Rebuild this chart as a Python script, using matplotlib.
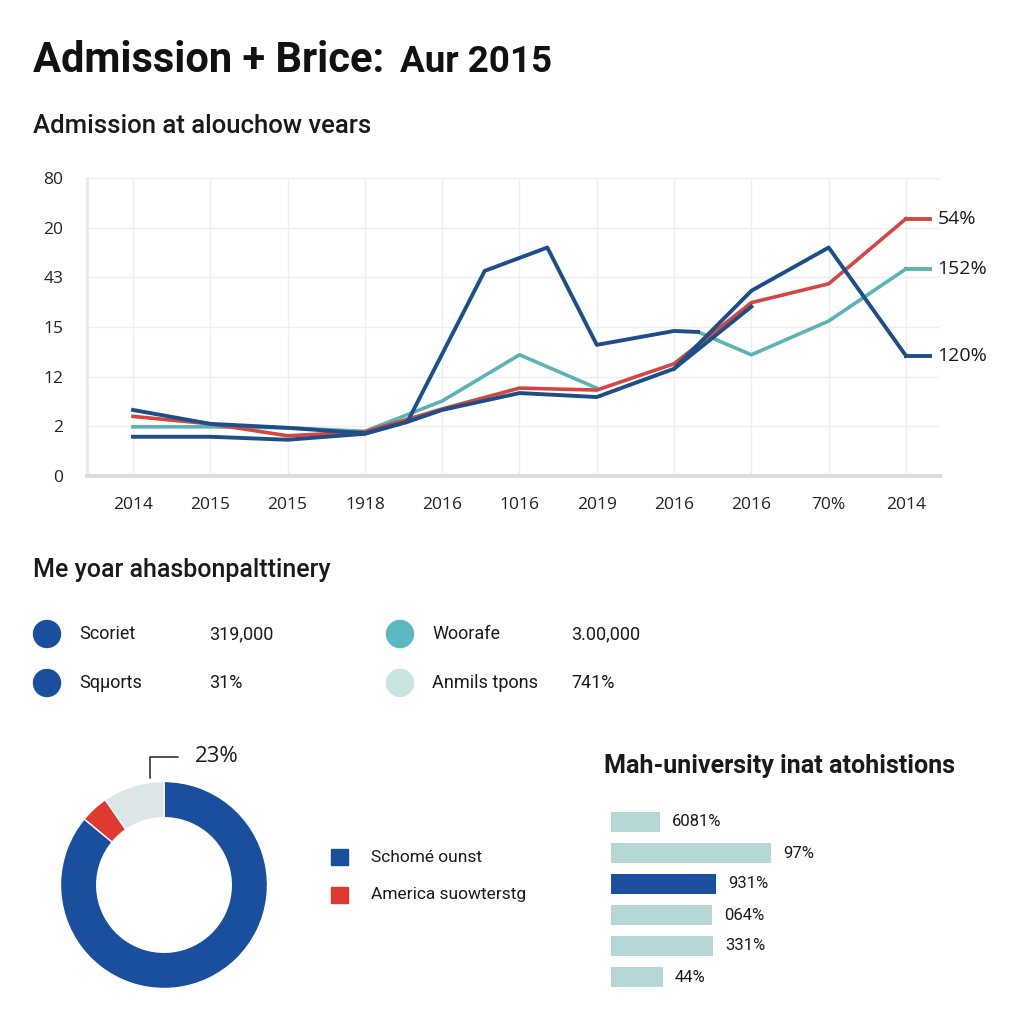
import numpy as np
import matplotlib.pyplot as plt
from matplotlib.patches import Circle, Rectangle

plt.rcParams['font.family'] = ['Roboto', 'DejaVu Sans']

# ---- line chart data (y in tick-slot units, 0..6) ----
year_labels = ['2014', '2015', '2015', '1918', '2016', '1016', '2019', '2016', '2016', '70%', '2014']
y_labels = ['0', '2', '12', '15', '43', '20', '80']

red_x = [0, 1, 2, 3, 4, 5, 6, 7, 8, 9, 10]
red_y = [1.20, 1.05, 0.81, 0.89, 1.35, 1.77, 1.73, 2.26, 3.49, 3.87, 5.18]

spike_x = [0, 1, 2, 3, 3.55, 4.55, 5.36, 6, 7, 7.31]
spike_y = [1.33, 1.05, 0.97, 0.86, 1.09, 4.13, 4.60, 2.64, 2.92, 2.90]

low_x = [0, 1, 2, 3, 3.55, 4, 5, 6, 7, 8]
low_y = [0.79, 0.79, 0.73, 0.85, 1.09, 1.33, 1.67, 1.59, 2.16, 3.41]

teal_x = [0, 1, 2, 3, 4, 5, 6, 7, 7.31, 8, 9, 10]
teal_y = [0.99, 0.99, 0.97, 0.90, 1.51, 2.44, 1.77, np.nan, 2.90, 2.44, 3.12, 4.17]

upper_x = [7, 8, 9, 10]
upper_y = [2.16, 3.73, 4.60, 2.42]

end_labels = ['54%', '152%', '120%']

# ---- legend block ----
legend_names = ['Scoriet', 'Sqμorts', 'Woorafe', 'Anmils tpons']
legend_values = ['319,000', '31%', '3.00,000', '741%']

# ---- donut ----
donut_shares = [86.0, 4.4, 9.6]
donut_names = ['Schomé ounst', 'America suowterstg']
donut_callout = '23%'

# ---- bars ----
bar_values = [49, 160, 105, 101, 102, 52]
bar_labels = ['6081%', '97%', '931%', '064%', '331%', '44%']
bar_highlight = 2

NAVY = '#1d4e89'
NAVY2 = '#1a4f9e'
RED = '#d4463f'
RED2 = '#e03a30'
TEAL = '#5cb3b4'
TEAL2 = '#5ab8c0'
PALE = '#c9e4e1'
BARPALE = '#b5d8d6'
GRAY = '#dde6e6'
TXT = '#1a1a1a'
TICKFONT = ['Open Sans', 'DejaVu Sans']


def fx(px):
    return px / 1024


def fy(py):
    return 1 - py / 1024


fig = plt.figure(figsize=(10.24, 10.24), dpi=100)
fig.patch.set_facecolor('white')

# titles
fig.text(fx(33), fy(72), 'Admission + Brice:', fontsize=30, fontweight='bold', color='#111111', va='baseline')
fig.text(fx(400), fy(72), 'Aur 2015', fontsize=26.5, fontweight='bold', color='#111111', va='baseline')
fig.text(fx(33), fy(133), 'Admission at alouchow vears', fontsize=18.5, fontweight='medium', color=TXT, va='baseline')

# line chart
ax = fig.add_axes([fx(87), fy(476), fx(940 - 87), fx(476 - 178)])
ax.plot(red_x, red_y, color=RED, lw=2.6, zorder=3)
ax.plot(teal_x, teal_y, color=TEAL, lw=2.6, zorder=2)
ax.plot(low_x, low_y, color=NAVY, lw=2.8, zorder=4)
ax.plot(spike_x, spike_y, color=NAVY, lw=2.8, zorder=4)
ax.plot(upper_x, upper_y, color=NAVY, lw=2.8, zorder=4)
ends = [(red_y[-1], RED), (teal_y[-1], TEAL), (upper_y[-1], NAVY)]
for (v, c), lab in zip(ends, end_labels):
    ax.plot([10, 10.31], [v, v], color=c, lw=2.8)
    ax.text(10.41, v, lab, fontsize=14, family=TICKFONT, color=TXT, va='center', ha='left', clip_on=False)

ax.set_xlim(-0.595, 10.44)
ax.set_ylim(0, 6)
ax.set_xticks(range(len(year_labels)))
ax.set_xticklabels(year_labels, family=TICKFONT)
ax.set_yticks(range(len(y_labels)))
ax.set_yticklabels(y_labels, family=TICKFONT)
ax.tick_params(axis='x', length=0, pad=15, labelsize=12.5, labelcolor='#222222')
ax.tick_params(axis='y', length=0, pad=17, labelsize=12.5, labelcolor='#222222')
ax.grid(color='#efefef', lw=1)
ax.set_axisbelow(True)
for s in ['top', 'right']:
    ax.spines[s].set_visible(False)
ax.spines['left'].set_color('#e8e8e8')
ax.spines['left'].set_linewidth(2)
ax.spines['bottom'].set_color('#dcdcdc')
ax.spines['bottom'].set_linewidth(3)

# legend block
fig.text(fx(33), fy(577), 'Me yoar ahasbonpalttinery', fontsize=18, fontweight='medium', color=TXT, va='baseline')
leg_colors = [NAVY2, NAVY2, TEAL2, PALE]
leg_pos = [(47, 634), (47, 683), (400, 634), (400, 683)]
for (px, py), c, name, val in zip(leg_pos, leg_colors, legend_names, legend_values):
    fig.add_artist(Circle((fx(px), fy(py)), 13.5 / 1024, transform=fig.transFigure, color=c))
    fig.text(fx(px + 32), fy(py), name, fontsize=13, color=TXT, va='center')
    fig.text(fx(px + 162 if px < 200 else px + 171), fy(py), val, fontsize=13, color=TXT, va='center')

# donut
axd = fig.add_axes([fx(164 - 103.5), fy(885 + 103.5), 207 / 1024, 207 / 1024])
axd.pie(donut_shares, colors=[NAVY2, RED2, GRAY], startangle=90, counterclock=False,
        radius=1, wedgeprops=dict(width=0.35, edgecolor='white', linewidth=1))
axd.set_xlim(-1, 1)
axd.set_ylim(-1, 1)
axd.set_aspect('equal')
ang = np.deg2rad(97.4)
axd.annotate(donut_callout, xy=(1.04 * np.cos(ang), 1.04 * np.sin(ang)), xytext=(0.30, 1.237),
             fontsize=16, family=TICKFONT, color=TXT, ha='left', va='center', annotation_clip=False,
             arrowprops=dict(arrowstyle='-', color='#333333', lw=1.2, relpos=(0, 0.5),
                             shrinkA=10, shrinkB=0,
                             connectionstyle='angle,angleA=0,angleB=90,rad=0'))

for (py, c), name in zip([(857, NAVY2), (895, RED2)], donut_names):
    fig.add_artist(Rectangle((fx(331), fy(py + 8)), 17 / 1024, 16 / 1024, transform=fig.transFigure, color=c))
    fig.text(fx(371), fy(py), name, fontsize=12.5, color=TXT, va='center')

# bars
fig.text(fx(604), fy(773), 'Mah-university inat atohistions', fontsize=18, fontweight='bold', color=TXT, va='baseline')
axb = fig.add_axes([fx(611), fy(992.5), 389 / 1024, 186 / 1024])
bcolors = [NAVY2 if i == bar_highlight else BARPALE for i in range(len(bar_values))]
axb.barh(range(len(bar_values)), bar_values, height=0.65, color=bcolors)
for i, (v, lab) in enumerate(zip(bar_values, bar_labels)):
    axb.text(v + 12, i, lab, fontsize=12, color=TXT, va='center')
axb.set_xlim(0, 389)
axb.set_ylim(len(bar_values) - 0.5, -0.5)
axb.axis('off')

fig.savefig('out.png', dpi=100, facecolor='white')
